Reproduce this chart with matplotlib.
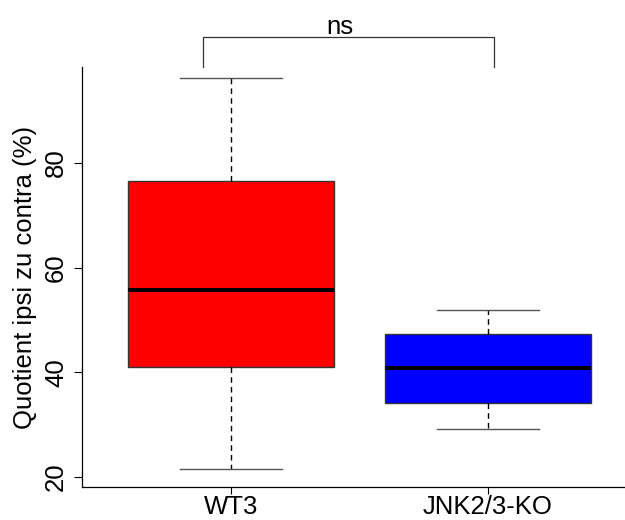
import matplotlib
matplotlib.use("Agg")
import matplotlib.pyplot as plt

# summary stats
groups = ["WT3", "JNK2/3-KO"]
whislo = [21.5, 29.2]
q1 = [41.0, 34.2]
med = [55.8, 40.8]
q3 = [76.6, 47.4]
whishi = [96.2, 51.9]
colors = ["#ff0000", "#0000ff"]
yticks = [20, 40, 60, 80]
sig_label = "ns"

plt.rcParams["font.family"] = ["Liberation Sans", "DejaVu Sans"]
fs = 18.5

fig = plt.figure(figsize=(6.25, 5.2), dpi=100)
ax = fig.add_axes([0.1312, 0.0635, 0.8688, 0.8075])

stats = []
for i, g in enumerate(groups):
    stats.append(dict(label=g, whislo=whislo[i], q1=q1[i], med=med[i],
                      q3=q3[i], whishi=whishi[i], fliers=[]))

pos = [1, 2]
bp = ax.bxp(stats, positions=pos, widths=0.8, patch_artist=True,
            showfliers=False,
            boxprops=dict(edgecolor="#333333", linewidth=1.0),
            medianprops=dict(color="black", linewidth=2.8),
            whiskerprops=dict(color="black", linewidth=1.0, linestyle=(0, (4, 3))),
            capprops=dict(color="#555555", linewidth=1.0),
            capwidths=0.4)
for patch, c in zip(bp["boxes"], colors):
    patch.set_facecolor(c)

ax.set_xlim(0.42, 2.533)
ax.set_ylim(18.1, 98.3)
ax.set_yticks(yticks)
ax.set_yticklabels([str(t) for t in yticks], rotation=90, va="center")
ax.set_xticks(pos)
ax.set_xticklabels(groups)
ax.tick_params(labelsize=fs, length=6, width=0.8, direction="out")
ax.tick_params(axis="x", pad=0.5, length=5)
ax.tick_params(axis="y", pad=4)
ax.set_ylabel("Quotient ipsi zu contra (%)", fontsize=fs, labelpad=5)

for s in ["top", "right"]:
    ax.spines[s].set_visible(False)
for s in ["left", "bottom"]:
    ax.spines[s].set_linewidth(0.9)

# significance bracket
bx = [0.891, 0.891, 2.023, 2.023]
by = [98.3, 104.0, 104.0, 98.3]
ax.plot(bx, by, color="#333333", linewidth=0.9, clip_on=False)
ax.text(1.425, 104.7, sig_label, ha="center", va="baseline", fontsize=fs)

fig.savefig("out.png", dpi=100)
